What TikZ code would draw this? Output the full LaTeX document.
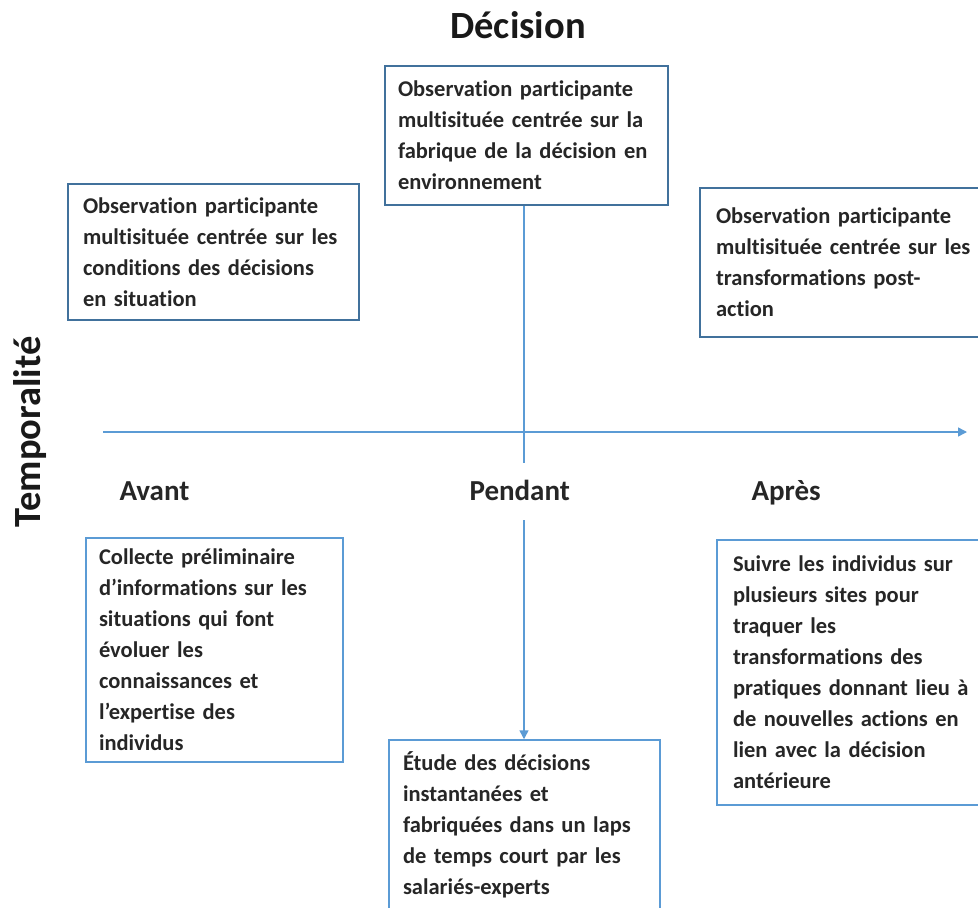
\documentclass[tikz,border=0pt]{standalone}
\usepackage{fontspec}
\setmainfont[Ligatures=NoCommon]{Carlito}
\usetikzlibrary{arrows.meta}
\definecolor{lineblue}{HTML}{5B9BD5}
\definecolor{darkblue}{HTML}{41719C}
\begin{document}
\begin{tikzpicture}[x=1pt,y=-1pt,
  boxtext/.style={rectangle, draw, line width=1.5pt, align=left, inner xsep=0pt, inner ysep=0pt,
    font=\bfseries\fontsize{22.5}{31}\selectfont, text=black!85},
  topbox/.style={boxtext, draw=darkblue},
  botbox/.style={boxtext, draw=lineblue},
  axisline/.style={draw=lineblue, line width=1.5pt},
  tiplabel/.style={anchor=base west, font=\bfseries\fontsize{29}{30}\selectfont, text=black!85},
  title/.style={font=\bfseries\fontsize{38.5}{40}\selectfont, text=black!90}
]
\useasboundingbox (0,0) rectangle (978,908);

\node[title] (dec) at (518,25) {Décision};
\node[title, rotate=90] (temp) at (30,432) {Temporalité};

\node[topbox, minimum width=283pt, minimum height=139pt, text width=257pt] (top) at (526.5,135.5)
  {Observation participante\\multisituée centrée sur la\\fabrique de la décision en\\environnement};
\node[topbox, minimum width=291pt, minimum height=136pt, text width=261pt] (tl) at (213.5,252)
  {Observation participante\\multisituée centrée sur les\\conditions des décisions\\en situation};
\node[topbox, minimum width=300pt, minimum height=149pt, text width=268pt] (tr) at (850,262.5)
  {Observation participante\\multisituée centrée sur les\\transformations post-\\action};

\node[botbox, minimum width=257pt, minimum height=224pt, text width=231pt] (bl) at (214.5,650)
  {Collecte préliminaire\\d’informations sur les\\situations qui font\\évoluer les\\connaissances et\\l’expertise des\\individus};
\node[botbox, minimum width=283pt, minimum height=265pt, text width=251pt] (br) at (858.5,672.5)
  {Suivre les individus sur\\plusieurs sites pour\\traquer les\\transformations des\\pratiques donnant lieu à\\de nouvelles actions en\\lien avec la décision\\antérieure};
\node[botbox, minimum width=271pt, minimum height=170pt, text width=243pt] (bc) at (524.5,825)
  {Étude des décisions\\instantanées et\\fabriquées dans un laps\\de temps court par les\\salariés-experts};

\node[tiplabel] (avant) at (116,500) {Avant};
\node[tiplabel] (pendant) at (466,500) {Pendant};
\node[tiplabel] (apres) at (748,500) {Après};

\coordinate (ax0) at (103,432);
\coordinate (ax1) at (967,432);
\coordinate (vend) at (524,463);
\coordinate (vmid) at (524,520);

\draw[axisline, -{Triangle[width=9pt,length=9pt]}] (ax0) -- (ax1);
\draw[axisline] (top.south -| vend) -- (vend);
\draw[axisline, -{Triangle[width=9pt,length=9pt]}] (vmid) -- (bc.north -| vmid);
\end{tikzpicture}
\end{document}
